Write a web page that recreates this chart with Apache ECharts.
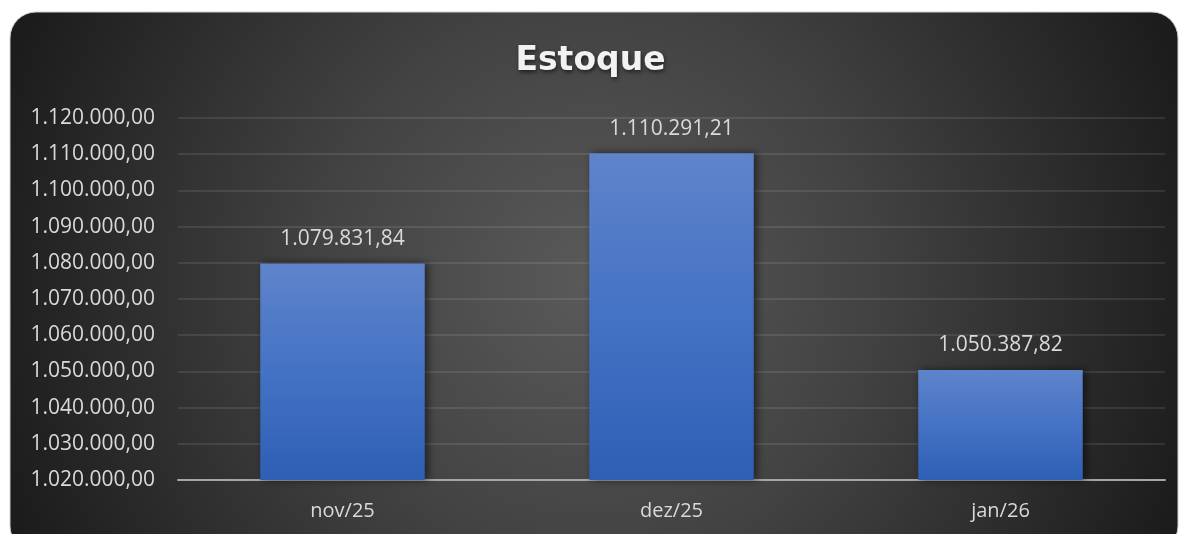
<!DOCTYPE html>
<html>
<head>
<meta charset="utf-8">
<script src="https://cdn.jsdelivr.net/npm/echarts@6/dist/echarts.min.js"></script>
<style>
html,body{margin:0;padding:0;background:#fff;}
#chart{width:1181px;height:534px;}
</style>
</head>
<body>
<div id="chart"></div>
<script>
const titleText = 'Estoque';
const categories = ['nov/25', 'dez/25', 'jan/26'];
const values = [1079831.84, 1110291.21, 1050387.82];
const yMin = 1020000;
const yMax = 1120000;
const yInterval = 10000;

function fmtBR(v) {
  const parts = v.toFixed(2).split('.');
  const intPart = parts[0].replace(/\B(?=(\d{3})+(?!\d))/g, '.');
  return intPart + ',' + parts[1];
}

const chart = echarts.init(document.getElementById('chart'));
chart.setOption({
  backgroundColor: '#ffffff',
  animation: false,
  graphic: [{
    type: 'rect',
    z: -10,
    silent: true,
    shape: { x: 10, y: 12, width: 1168, height: 540, r: 26 },
    style: {
      fill: {
        type: 'radial', x: 0.5, y: 0.5, r: 1.15,
        colorStops: [
          { offset: 0, color: '#5a5a5a' },
          { offset: 0.45, color: '#424242' },
          { offset: 1, color: '#1c1c1c' }
        ]
      },
      stroke: '#cfcfcf',
      lineWidth: 1
    }
  }],
  title: {
    text: titleText,
    left: 'center',
    top: 40,
    textStyle: {
      fontFamily: 'DejaVu Sans',
      fontWeight: 'bold',
      fontSize: 33,
      color: '#f2f2f2',
      textShadowColor: 'rgba(0,0,0,0.6)',
      textShadowBlur: 4,
      textShadowOffsetX: 1,
      textShadowOffsetY: 2
    }
  },
  grid: { left: 178, right: 16, top: 118, bottom: 54, containLabel: false },
  xAxis: {
    type: 'category',
    data: categories,
    axisLine: { show: true, lineStyle: { color: '#a6a6a6', width: 2 } },
    axisTick: { show: false },
    axisLabel: { color: '#d9d9d9', fontFamily: 'Open Sans', fontSize: 20, margin: 21 }
  },
  yAxis: {
    type: 'value',
    min: yMin,
    max: yMax,
    interval: yInterval,
    axisLine: { show: false },
    axisTick: { show: false },
    splitLine: { lineStyle: { color: 'rgba(255,255,255,0.13)', width: 1.5 } },
    axisLabel: {
      color: '#d9d9d9', fontFamily: 'Open Sans', fontSize: 21, margin: 23,
      formatter: v => fmtBR(v)
    }
  },
  series: [{
    type: 'bar',
    data: values,
    barWidth: '50%',
    itemStyle: {
      color: {
        type: 'linear', x: 0, y: 0, x2: 0, y2: 1,
        colorStops: [
          { offset: 0, color: '#5f84cb' },
          { offset: 0.5, color: '#4472c4' },
          { offset: 1, color: '#2e5fb5' }
        ]
      },
      shadowColor: 'rgba(0,0,0,0.55)',
      shadowBlur: 8,
      shadowOffsetX: 3,
      shadowOffsetY: 0
    },
    label: {
      show: true,
      position: 'top',
      distance: 14,
      color: '#d9d9d9',
      fontFamily: 'Open Sans',
      fontSize: 21,
      formatter: p => fmtBR(p.value)
    }
  }]
});
</script>
</body>
</html>
